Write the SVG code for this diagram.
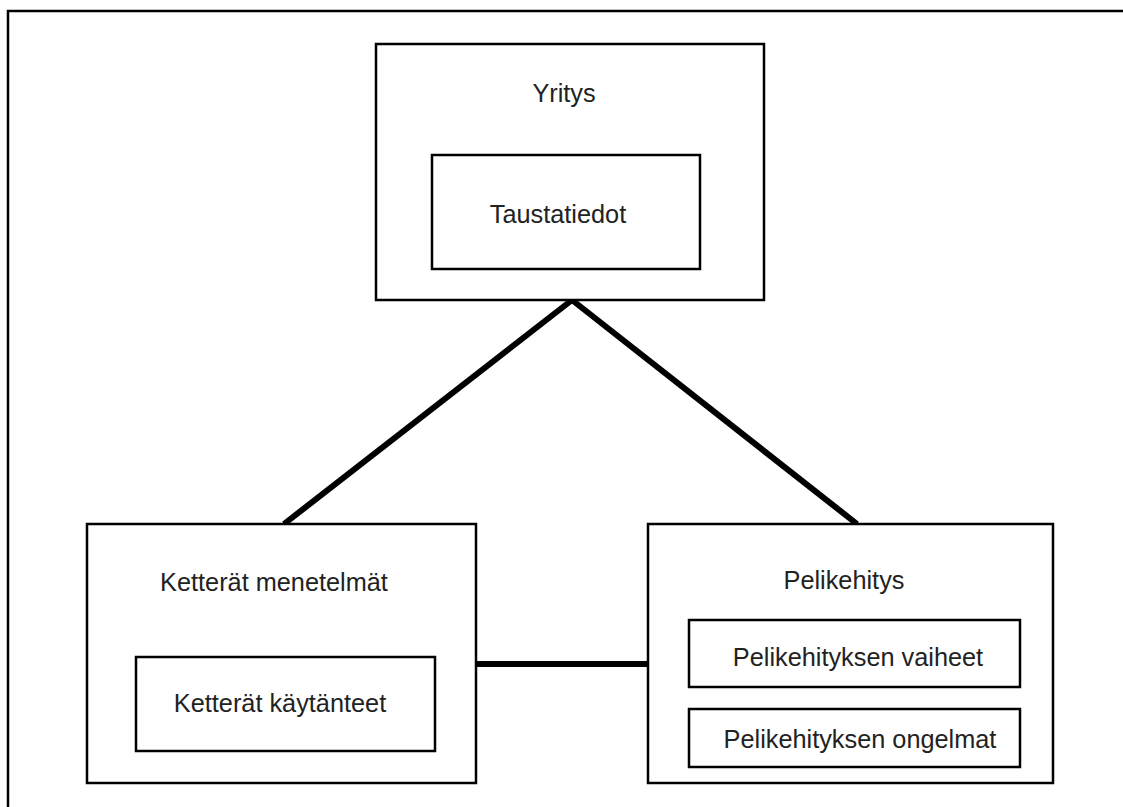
<svg xmlns="http://www.w3.org/2000/svg" width="1123" height="807" viewBox="0 0 1123 807">
<style>
.box{fill:#fff;stroke:#000;stroke-width:2.5}
.lbl{font-family:"Liberation Sans",Arial,sans-serif;font-size:25.3px;fill:#222;text-anchor:middle}
.conn{stroke:#000;stroke-width:6;fill:none}
</style>
<rect x="0" y="0" width="1123" height="807" fill="#fff"/>
<rect x="8" y="11" width="1130" height="810" fill="none" stroke="#000" stroke-width="2.5"/>
<g id="connectors">
<line class="conn" x1="572" y1="300" x2="284" y2="524"/>
<line class="conn" x1="572" y1="300" x2="857" y2="524"/>
<line class="conn" x1="476" y1="664" x2="648" y2="664"/>
</g>
<g id="yritys">
<rect class="box" x="376" y="44" width="388" height="256"/>
<text class="lbl" x="564" y="102">Yritys</text>
</g>
<g id="taustatiedot">
<rect class="box" x="432" y="155" width="268" height="114"/>
<text class="lbl" x="558" y="223">Taustatiedot</text>
</g>
<g id="ketterat-menetelmat">
<rect class="box" x="87" y="524" width="389" height="259"/>
<text class="lbl" x="274" y="591">Ketterät menetelmät</text>
</g>
<g id="ketterat-kaytanteet">
<rect class="box" x="136" y="657" width="299" height="94"/>
<text class="lbl" x="280" y="712">Ketterät käytänteet</text>
</g>
<g id="pelikehitys">
<rect class="box" x="648" y="524" width="405" height="259"/>
<text class="lbl" x="844" y="589">Pelikehitys</text>
</g>
<g id="pelikehityksen-vaiheet">
<rect class="box" x="689" y="620" width="331" height="67"/>
<text class="lbl" x="858" y="666">Pelikehityksen vaiheet</text>
</g>
<g id="pelikehityksen-ongelmat">
<rect class="box" x="689" y="709" width="331" height="58"/>
<text class="lbl" x="860" y="748">Pelikehityksen ongelmat</text>
</g>
</svg>
